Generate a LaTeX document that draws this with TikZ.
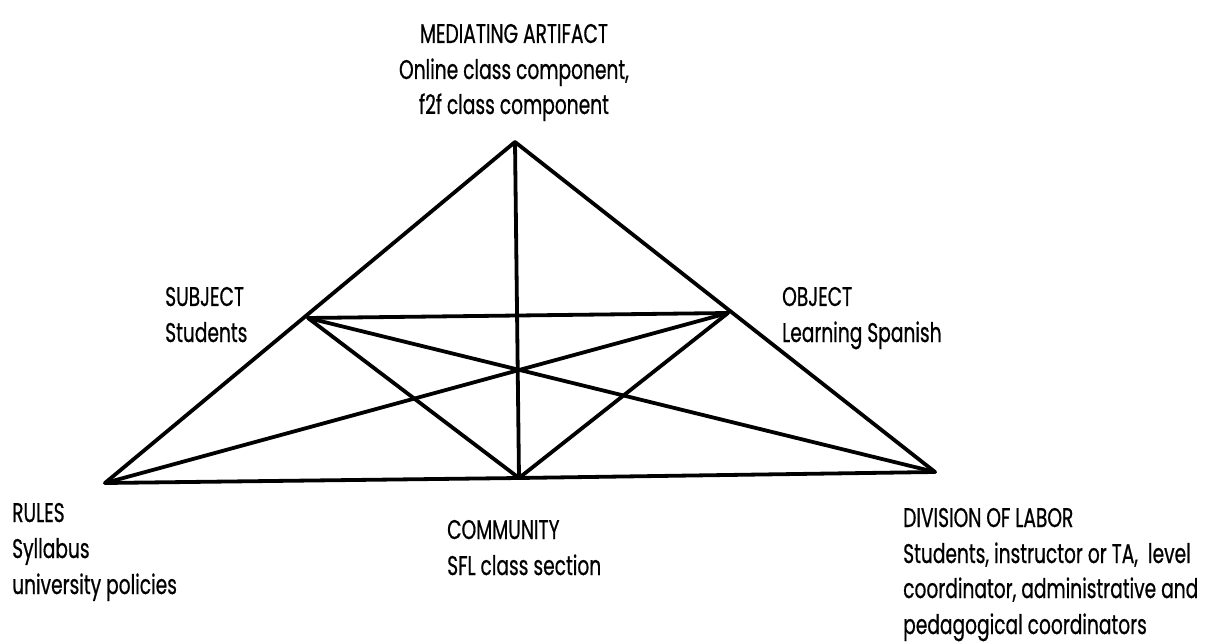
\documentclass[tikz,border=0pt]{standalone}
\usepackage{fontspec}
\setmainfont[FakeStretch=0.69,FakeBold=0.6]{Poppins}
\begin{document}
\begin{tikzpicture}[x=1pt,y=-1pt,
  lbl/.style={inner sep=0pt, font=\fontsize{27}{36}\selectfont, text=black},
  edge/.style={line width=3.8pt, line cap=round, line join=round, black}]
\useasboundingbox (0,0) rectangle (1205,644);
\fill[white] (0,0) rectangle (1205,644);
% vertices
\coordinate (A) at (515,142);
\coordinate (S) at (308,318);
\coordinate (O) at (728,313);
\coordinate (R) at (105,483);
\coordinate (C) at (519,478);
\coordinate (D) at (935,472);
% lines
\draw[edge] (R) -- (A) -- (D) -- (C) -- cycle;
\draw[edge] (A) -- (C);
\draw[edge] (S) -- (O);
\draw[edge] (S) -- (C) -- (O);
\draw[edge] (S) -- (D);
\draw[edge] (O) -- (R);
% labels
\node[lbl, anchor=base] (ma1) at (514,43) {MEDIATING ARTIFACT};
\node[lbl, anchor=base] (ma2) at (514,79) {Online class component,};
\node[lbl, anchor=base] (ma3) at (514,114) {f2f class component};
\node[lbl, anchor=base west] (su1) at (165,306) {SUBJECT};
\node[lbl, anchor=base west] (su2) at (165,342) {Students};
\node[lbl, anchor=base west] (ob1) at (782,306) {OBJECT};
\node[lbl, anchor=base west] (ob2) at (782,342) {Learning Spanish};
\node[lbl, anchor=base west] (ru1) at (12,522) {RULES};
\node[lbl, anchor=base west] (ru2) at (12,558) {Syllabus};
\node[lbl, anchor=base west] (ru3) at (12,594) {university policies};
\node[lbl, anchor=base west] (co1) at (447,539) {COMMUNITY};
\node[lbl, anchor=base west] (co2) at (447,575) {SFL class section};
\node[lbl, anchor=base west] (dl1) at (903,527) {DIVISION OF LABOR};
\node[lbl, anchor=base west] (dl2) at (903,563) {Students, instructor or TA,\ \ level};
\node[lbl, anchor=base west] (dl3) at (903,598) {coordinator, administrative and};
\node[lbl, anchor=base west] (dl4) at (903,634) {pedagogical coordinators};
\end{tikzpicture}
\end{document}
